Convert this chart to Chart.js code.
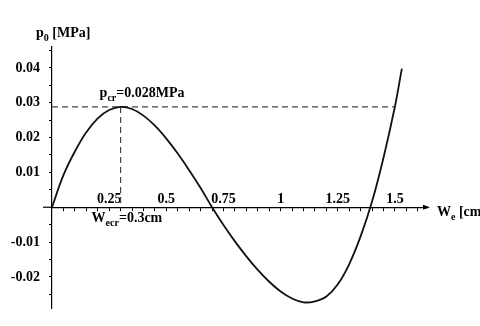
<!DOCTYPE html>
<html>
<head>
<meta charset="utf-8">
<script src="https://cdn.jsdelivr.net/npm/chart.js@4.4.1/dist/chart.umd.min.js"></script>
<style>
    html, body { margin: 0; padding: 0; background: #fff; }
    #wrap { width: 480px; height: 326px; }
</style>
</head>
<body>
<div id="wrap"><canvas id="deflection-chart" width="480" height="326"></canvas></div>
<script>
// deflection W_e [cm] and pressure p_0 [MPa]
const deflection = [0, 0.05, 0.1, 0.15, 0.2, 0.25, 0.3, 0.35, 0.4, 0.45, 0.5, 0.55, 0.6, 0.65, 0.7,
    0.75, 0.8, 0.85, 0.9, 0.95, 1.0, 1.05, 1.1, 1.15, 1.2, 1.25, 1.3, 1.35, 1.4, 1.45, 1.5, 1.53];
const pressure = [0, 0.0092, 0.0160, 0.0215, 0.0255, 0.0279, 0.0288, 0.0282, 0.0263, 0.0234, 0.0197, 0.0154, 0.0106, 0.0055, 0,
    -0.0051, -0.0098, -0.0141, -0.0180, -0.0214, -0.0242, -0.0262, -0.0273, -0.0270, -0.0256, -0.0221, -0.0163, -0.0083, 0.0017, 0.0143, 0.0290, 0.0398];

const criticalDeflection = 0.3;
const criticalPressure = 0.0288;
const dashedLineEnd = 1.495;

const xTickLabels = [0.25, 0.5, 0.75, 1, 1.25, 1.5];
const yTickLabels = [-0.02, -0.01, 0.01, 0.02, 0.03, 0.04];

const serif = '"Liberation Serif", "DejaVu Serif", serif';

function isLabelled(list, value) {
    return list.some(v => Math.abs(v - value) < 1e-9);
}

const textPlugin = {
    id: 'textPlugin',
    afterDraw(chart) {
        const ctx = chart.ctx;
        const xs = chart.scales.x;
        const ys = chart.scales.y;
        const x0 = xs.getPixelForValue(0);
        const y0 = ys.getPixelForValue(0);

        ctx.save();
        // short stub of the x axis left of the origin, and the arrow head
        ctx.strokeStyle = '#000';
        ctx.lineWidth = 1.2;
        ctx.beginPath();
        ctx.moveTo(x0 - 9, y0);
        ctx.lineTo(x0, y0);
        ctx.stroke();
        ctx.fillStyle = '#000';
        ctx.beginPath();
        ctx.moveTo(xs.right + 3, y0);
        ctx.lineTo(xs.right - 4, y0 - 2.5);
        ctx.lineTo(xs.right - 4, y0 + 2.5);
        ctx.closePath();
        ctx.fill();

        function drawSub(x, y, main, sub, rest) {
            ctx.font = 'bold 14px ' + serif;
            ctx.fillText(main, x, y);
            x += ctx.measureText(main).width;
            ctx.font = 'bold 10px ' + serif;
            ctx.fillText(sub, x, y + 4);
            x += ctx.measureText(sub).width;
            ctx.font = 'bold 14px ' + serif;
            ctx.fillText(rest, x, y);
        }

        ctx.textBaseline = 'alphabetic';
        ctx.textAlign = 'left';
        drawSub(x0 - 16, ys.top - 10, 'p', '0', ' [MPa]');
        drawSub(xs.right + 10, y0 + 9, 'W', 'e', ' [cm]');
        const xc = xs.getPixelForValue(criticalDeflection);
        drawSub(xc - 21, ys.getPixelForValue(criticalPressure) - 10, 'p', 'cr', '=0.028MPa');
        drawSub(xc - 29, y0 + 15, 'W', 'ecr', '=0.3cm');
        ctx.restore();
    }
};

const curve = deflection.map((w, i) => ({ x: w, y: pressure[i] }));

const ctx = document.getElementById('deflection-chart').getContext('2d');
const chart = new Chart(ctx, {
    type: 'line',
    data: {
        datasets: [{
            label: 'p0',
            data: curve,
            borderColor: '#111',
            borderWidth: 1.8,
            pointRadius: 0,
            tension: 0.4,
            fill: false,
            order: 0
        }, {
            label: 'pcr',
            data: [{ x: 0, y: criticalPressure }, { x: dashedLineEnd, y: criticalPressure }],
            borderColor: '#444',
            borderWidth: 1.2,
            borderDash: [6, 4],
            pointRadius: 0,
            order: 1
        }, {
            label: 'wcr',
            data: [{ x: criticalDeflection, y: criticalPressure }, { x: criticalDeflection, y: 0 }],
            borderColor: '#444',
            borderWidth: 1.2,
            borderDash: [6, 4],
            pointRadius: 0,
            order: 1
        }]
    },
    options: {
        responsive: false,
        animation: false,
        devicePixelRatio: 1,
        layout: {
            padding: { left: 0, right: 53, top: 47, bottom: 16 }
        },
        scales: {
            x: {
                type: 'linear',
                min: 0,
                max: 1.64,
                position: { y: 0 },
                border: { display: true, color: '#000', width: 1.2 },
                grid: { drawOnChartArea: false, drawTicks: true, tickLength: 3, color: '#000' },
                afterBuildTicks: (scale) => {
                    const ticks = [];
                    for (let i = 1; i <= 32; i++) {
                        ticks.push({ value: Math.round(i * 5) / 100 });
                    }
                    scale.ticks = ticks;
                },
                ticks: {
                    mirror: true,
                    padding: -2,
                    color: '#000',
                    font: { family: serif, size: 14, weight: 'bold' },
                    maxRotation: 0,
                    autoSkip: false,
                    callback: (value) => isLabelled(xTickLabels, value) ? String(value) : ''
                }
            },
            y: {
                type: 'linear',
                min: -0.0291,
                max: 0.046,
                position: 'left',
                afterFit: (scale) => { scale.width = 52; },
                border: { display: true, color: '#000', width: 1.2 },
                grid: { drawOnChartArea: false, drawTicks: true, tickLength: 3, color: '#000' },
                afterBuildTicks: (scale) => {
                    const ticks = [];
                    for (let i = -5; i <= 9; i++) {
                        if (i !== 0) ticks.push({ value: Math.round(i * 5) / 1000 });
                    }
                    scale.ticks = ticks;
                },
                ticks: {
                    padding: 9,
                    color: '#000',
                    font: { family: serif, size: 14, weight: 'bold' },
                    autoSkip: false,
                    callback: (value) => isLabelled(yTickLabels, value) ? value.toFixed(2) : ''
                }
            }
        },
        plugins: {
            legend: { display: false },
            tooltip: { enabled: false }
        }
    },
    plugins: [textPlugin]
});
</script>
</body>
</html>
